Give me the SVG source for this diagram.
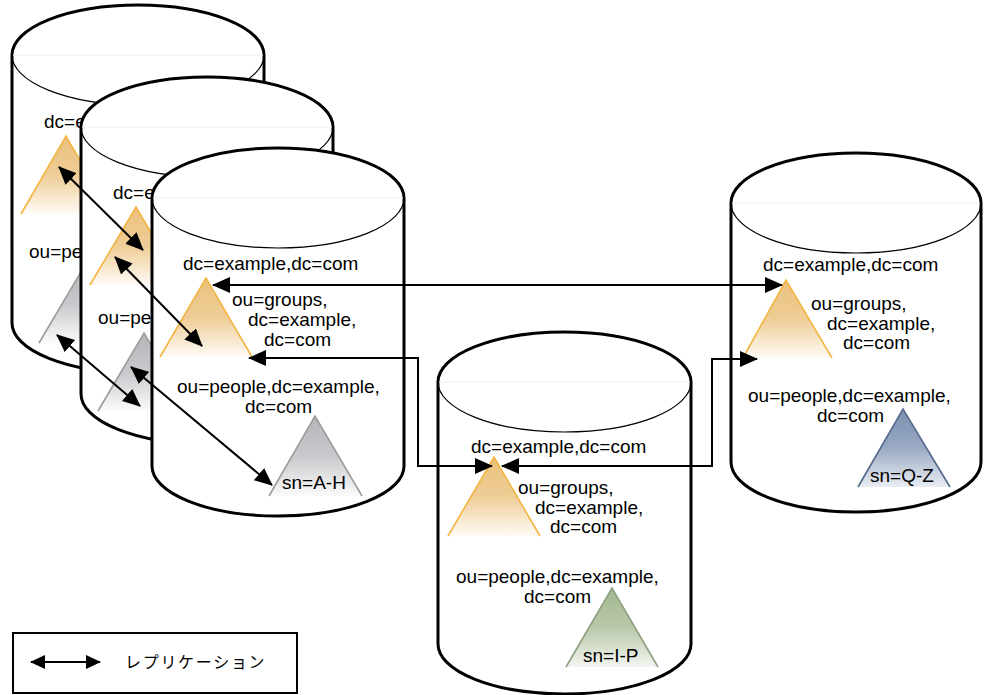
<svg xmlns="http://www.w3.org/2000/svg" width="988" height="695" viewBox="0 0 988 695">
<style>
.cyl{fill:#fff;stroke:#000;stroke-width:3}
.inner{fill:none;stroke:#000;stroke-width:1.2}
.rim{stroke:#eeeeee;stroke-width:1}
.t{font-family:"Liberation Sans",Arial,sans-serif;font-size:19px;fill:#000}
.lg{font-family:"Liberation Sans","Noto Sans CJK JP",sans-serif;font-size:16px;letter-spacing:1.7px;fill:#000}
.or{fill:url(#gO)}.ors{fill:none;stroke:#f2b541;stroke-width:1.6}
.gr{fill:url(#gG)}.grs{fill:none;stroke:#9c9c9c;stroke-width:1.6}
.gn{fill:url(#gN)}.gns{fill:none;stroke:#8e9e80;stroke-width:1.6}
.bl{fill:url(#gB)}.bls{fill:none;stroke:#55688a;stroke-width:1.6}
.ar{fill:none;stroke:#000;stroke-width:2;marker-start:url(#ah);marker-end:url(#ah)}
</style>
<defs>
<linearGradient id="gO" x1="0" y1="0" x2="0" y2="1"><stop offset="0" stop-color="#e9c17c"/><stop offset="0.5" stop-color="#efcd96"/><stop offset="1" stop-color="#fefbf6"/></linearGradient>
<linearGradient id="gG" x1="0" y1="0" x2="0" y2="1"><stop offset="0" stop-color="#b4b5b9"/><stop offset="0.5" stop-color="#c8c9cc"/><stop offset="1" stop-color="#fbfbfb"/></linearGradient>
<linearGradient id="gN" x1="0" y1="0" x2="0" y2="1"><stop offset="0" stop-color="#a2b68e"/><stop offset="0.5" stop-color="#b9c8aa"/><stop offset="1" stop-color="#f3f6f0"/></linearGradient>
<linearGradient id="gB" x1="0" y1="0" x2="0" y2="1"><stop offset="0" stop-color="#7a8eaf"/><stop offset="0.5" stop-color="#9aaac3"/><stop offset="1" stop-color="#e9edf3"/></linearGradient>
<marker id="ah" markerUnits="userSpaceOnUse" markerWidth="18" markerHeight="16" refX="17" refY="8" orient="auto-start-reverse"><path d="M0,0 L18,8 L0,16 z" fill="#000"/></marker>
<marker id="ahs" markerUnits="userSpaceOnUse" markerWidth="15" markerHeight="14" refX="14" refY="7" orient="auto-start-reverse"><path d="M0,0 L15,7 L0,14 z" fill="#000"/></marker>
</defs>

<g id="server1">
<path class="cyl" d="M12,55 A126,50 0 0 1 264,55 L264,323 A126,50 0 0 1 12,323 Z"/>
<line class="rim" x1="13" y1="55" x2="263" y2="55"/>
<path class="inner" d="M12,55 A126,50 0 0 0 264,55"/>
<text class="t" x="44" y="128">dc=e</text>
<polygon class="or" points="66,136 21,214 111,214"/><polyline class="ors" points="21,214 66,136 111,214"/>
<text class="t" x="29" y="258">ou=pe</text>
<polygon class="gr" points="85,265 39,343 131,343"/><polyline class="grs" points="39,343 85,265 131,343"/>
</g>

<g id="server2">
<path class="cyl" d="M81,127 A126,50 0 0 1 333,127 L333,394 A126,50 0 0 1 81,394 Z"/>
<line class="rim" x1="82" y1="127" x2="332" y2="127"/>
<path class="inner" d="M81,127 A126,50 0 0 0 333,127"/>
<text class="t" x="113" y="199">dc=e</text>
<polygon class="or" points="136,207 90,285 182,285"/><polyline class="ors" points="90,285 136,207 182,285"/>
<text class="t" x="98" y="324">ou=pe</text>
<polygon class="gr" points="144,333 98,411 190,411"/><polyline class="grs" points="98,411 144,333 190,411"/>
</g>

<g id="server3">
<path class="cyl" d="M152,198 A126,50 0 0 1 404,198 L404,466 A126,50 0 0 1 152,466 Z"/>
<line class="rim" x1="153" y1="198" x2="403" y2="198"/>
<path class="inner" d="M152,198 A126,50 0 0 0 404,198"/>
<text class="t" x="183" y="270">dc=example,dc=com</text>
<polygon class="or" points="206,278 160,357 252,357"/><polyline class="ors" points="160,357 206,278 252,357"/>
<text class="t"><tspan x="232" y="306">ou=groups,</tspan><tspan x="248" y="326">dc=example,</tspan><tspan x="264" y="346">dc=com</tspan></text>
<text class="t"><tspan x="177" y="393">ou=people,dc=example,</tspan><tspan x="245" y="413">dc=com</tspan></text>
<polygon class="gr" points="315,416 269,496 362,496"/><polyline class="grs" points="269,496 315,416 362,496"/>
<text class="t" x="282" y="489">sn=A-H</text>
</g>

<g id="server4">
<path class="cyl" d="M438,382 A126.5,50 0 0 1 691,382 L691,644 A126.5,50 0 0 1 438,644 Z"/>
<line class="rim" x1="439" y1="382" x2="690" y2="382"/>
<path class="inner" d="M438,382 A126.5,50 0 0 0 691,382"/>
<text class="t" x="471" y="453">dc=example,dc=com</text>
<polygon class="or" points="494,457 448,536 540,536"/><polyline class="ors" points="448,536 494,457 540,536"/>
<text class="t"><tspan x="518" y="494">ou=groups,</tspan><tspan x="535" y="514">dc=example,</tspan><tspan x="550" y="533">dc=com</tspan></text>
<text class="t"><tspan x="456" y="583">ou=people,dc=example,</tspan><tspan x="524" y="603">dc=com</tspan></text>
<polygon class="gn" points="612,588 566,667 658,667"/><polyline class="gns" points="566,667 612,588 658,667"/>
<text class="t" x="583" y="662">sn=I-P</text>
</g>

<g id="server5">
<path class="cyl" d="M731,203 A125,50 0 0 1 981,203 L981,462 A125,50 0 0 1 731,462 Z"/>
<line class="rim" x1="732" y1="203" x2="980" y2="203"/>
<path class="inner" d="M731,203 A125,50 0 0 0 981,203"/>
<text class="t" x="763" y="271">dc=example,dc=com</text>
<polygon class="or" points="786,280 743,358 832,358"/><polyline class="ors" points="743,358 786,280 832,358"/>
<text class="t"><tspan x="811" y="310">ou=groups,</tspan><tspan x="827" y="330">dc=example,</tspan><tspan x="843" y="349">dc=com</tspan></text>
<text class="t"><tspan x="748" y="402">ou=people,dc=example,</tspan><tspan x="817" y="422">dc=com</tspan></text>
<polygon class="bl" points="903,409 858,487 950,487"/><polyline class="bls" points="858,487 903,409 950,487"/>
<text class="t" x="870" y="482">sn=Q-Z</text>
</g>

<g id="connectors">
<line class="ar" x1="59" y1="167" x2="143" y2="250"/>
<line class="ar" x1="115" y1="257" x2="202" y2="346"/>
<line class="ar" x1="57" y1="335" x2="140" y2="406"/>
<line class="ar" x1="131" y1="367" x2="272" y2="485"/>
<line class="ar" x1="213" y1="285" x2="782" y2="285"/>
<polyline class="ar" points="249,358 418,358 418,466 492,466"/>
<polyline class="ar" points="502,466 712,466 712,359 757,359"/>
</g>

<g id="legend">
<rect x="13" y="633" width="284" height="60" fill="#fff" stroke="#000" stroke-width="2"/>
<line x1="31" y1="662" x2="100" y2="662" stroke="#000" stroke-width="2" marker-start="url(#ahs)" marker-end="url(#ahs)"/>
<text class="lg" x="125" y="668">レプリケーション</text>
</g>
</svg>
